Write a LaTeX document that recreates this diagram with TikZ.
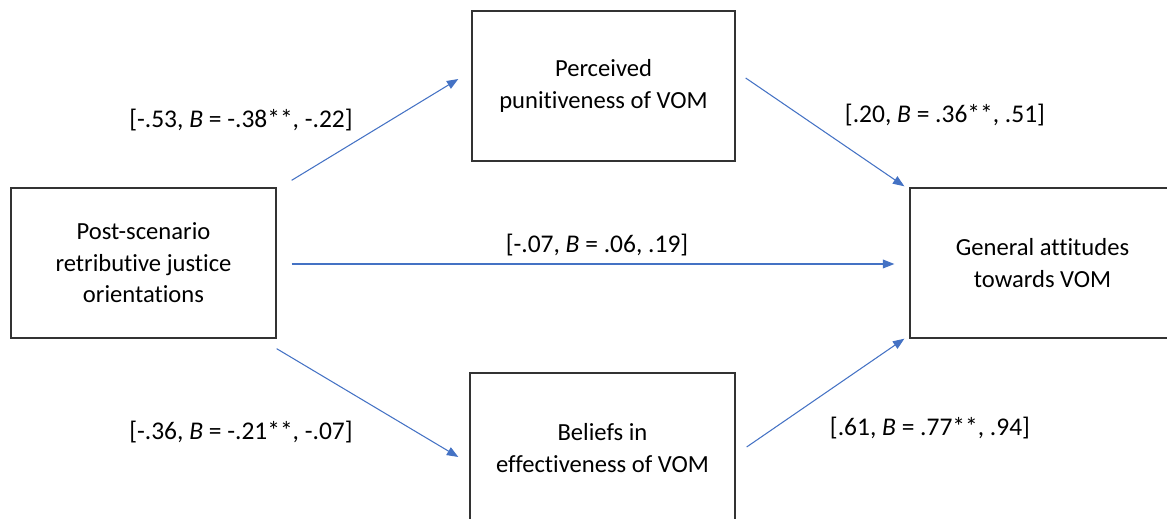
\documentclass[tikz,border=0pt]{standalone}
\usepackage{fontspec}
\setmainfont{Carlito}[Ligatures={NoCommon}]
\usetikzlibrary{arrows.meta, positioning, calc}
\definecolor{pathblue}{HTML}{4472C4}

\begin{document}
\begin{tikzpicture}[
  x=0.02cm, y=-0.02cm,
  var/.style={draw=black!80, line width=0.8pt, minimum width=5.3cm,
              minimum height=3cm, align=center, font=\fontsize{14}{18}\selectfont},
  coef/.style={font=\fontsize{14.5}{18}\selectfont},
  arr/.style={-{Triangle[length=6.5pt, width=5pt]}, color=pathblue, line width=0.6pt},
]
  \useasboundingbox (0,0) rectangle (1167,519);

  \node[var] (retrib) at (143.5,263) {Post-scenario\\retributive justice\\orientations};
  \node[var, minimum width=5.26cm] (punit) at (603.5,86) {Perceived\\punitiveness of VOM};
  \node[var] (effect) at (602.5,448) {Beliefs in\\effectiveness of VOM};
  \node[var] (attit) at (1042.5,263) {General attitudes\\towards VOM};

  \node[coef] (a1) at (241,120) {[-.53, \textit{B} = -.38**, -.22]};
  \node[coef] (b1) at (945,115) {[.20, \textit{B} = .36**, .51]};
  \node[coef] (c1) at (597,245) {[-.07, \textit{B} = .06, .19]};
  \node[coef] (a2) at (241,432) {[-.36, \textit{B} = -.21**, -.07]};
  \node[coef] (b2) at (930,428) {[.61, \textit{B} = .77**, .94]};

  \draw[arr] ([shift={(15,-7)}]retrib.north east) -- ([shift={(-13,-7)}]punit.west);
  \draw[arr] ([shift={(15,1)}]retrib.east) -- ([shift={(-15,1)}]attit.west);
  \draw[arr] ([shift={(0,10)}]retrib.south east) -- ([shift={(-11,9)}]effect.west);
  \draw[arr] ([shift={(10,-8)}]punit.east) -- ([shift={(-5,-1)}]attit.north west);
  \draw[arr] ([shift={(11,-1)}]effect.east) -- ([shift={(-5,0)}]attit.south west);
\end{tikzpicture}
\end{document}
